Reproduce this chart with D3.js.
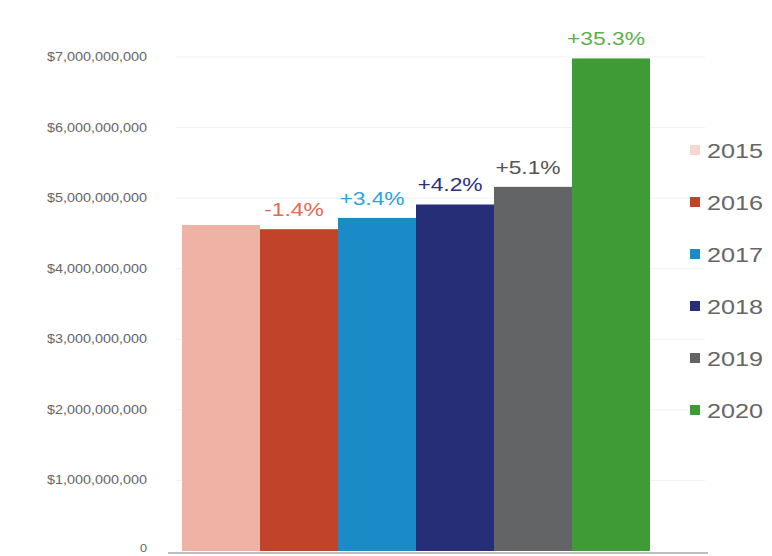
<!DOCTYPE html>
<html>
<head>
<meta charset="utf-8">
<script src="https://cdn.jsdelivr.net/npm/d3@7"></script>
<style>
  body { margin: 0; background: #fff; }
  svg { display: block; font-family: "Liberation Sans", Arial, sans-serif; }
</style>
</head>
<body>
<svg width="772" height="556"></svg>
<script>
// data
const years = ["2015", "2016", "2017", "2018", "2019", "2020"];
const revenue = [4.62e9, 4.56e9, 4.72e9, 4.91e9, 5.16e9, 6.98e9];
const changeLabels = ["", "-1.4%", "+3.4%", "+4.2%", "+5.1%", "+35.3%"];
const yTicks = [0, 1e9, 2e9, 3e9, 4e9, 5e9, 6e9, 7e9];

const barColors = ["#efb3a5", "#c1432a", "#1a8bc7", "#262e78", "#636466", "#3f9b36"];
const labelColors = ["#e8a090", "#e06a55", "#2aa4de", "#2a3282", "#555555", "#5cb04c"];
const legendColors = ["#f7d6cf", "#c1432a", "#1a8bc7", "#262e78", "#636466", "#3f9b36"];

const svg = d3.select("svg");

const x = d3.scaleBand().domain(years).range([182, 650]).padding(0);
const y = d3.scaleLinear().domain([0, 7e9]).range([551, 57]);

const fmt = (d) => (d === 0 ? "0" : d3.format("$,")(d));

// faint gridlines
svg
  .append("g")
  .selectAll("line")
  .data(yTicks.filter((d) => d > 0))
  .enter()
  .append("line")
  .attr("x1", 176)
  .attr("x2", 705)
  .attr("y1", (d) => y(d))
  .attr("y2", (d) => y(d))
  .attr("stroke", "#f1f1f1")
  .attr("stroke-width", 1);

// y tick labels (slightly stretched like the original)
svg
  .append("g")
  .selectAll("text")
  .data(yTicks)
  .enter()
  .append("text")
  .attr("transform", (d) => `translate(147, ${d === 0 ? y(d) + 1 : y(d) + 4}) scale(1.15, 1)`)
  .attr("text-anchor", "end")
  .attr("font-size", (d) => (d === 0 ? "11px" : "12.5px"))
  .attr("fill", "#666")
  .text(fmt);

// bars
svg
  .append("g")
  .selectAll("rect")
  .data(years)
  .enter()
  .append("rect")
  .attr("x", (d) => x(d))
  .attr("y", (d, i) => y(revenue[i]))
  .attr("width", x.bandwidth())
  .attr("height", (d, i) => y(0) - y(revenue[i]))
  .attr("fill", (d, i) => barColors[i]);

// baseline
svg
  .append("line")
  .attr("x1", 168)
  .attr("x2", 708)
  .attr("y1", 553)
  .attr("y2", 553)
  .attr("stroke", "#aaa")
  .attr("stroke-width", 1.5);

// change labels above bars
svg
  .append("g")
  .selectAll("text")
  .data(years)
  .enter()
  .append("text")
  .attr(
    "transform",
    (d, i) =>
      `translate(${x(d) + x.bandwidth() / 2 - 5}, ${y(revenue[i]) - 13}) scale(1.2, 1)`
  )
  .attr("text-anchor", "middle")
  .attr("font-size", "19px")
  .attr("fill", (d, i) => labelColors[i])
  .text((d, i) => changeLabels[i]);

// legend
const legend = svg
  .append("g")
  .selectAll("g")
  .data(years)
  .enter()
  .append("g")
  .attr("transform", (d, i) => `translate(690, ${150 + i * 52})`);

legend
  .append("rect")
  .attr("x", 0)
  .attr("y", -5)
  .attr("width", 10)
  .attr("height", 10)
  .attr("fill", (d, i) => legendColors[i]);

legend
  .append("text")
  .attr("transform", "translate(17, 8) scale(1.2, 1)")
  .attr("font-size", "21px")
  .attr("fill", "#666")
  .text((d) => d);
</script>
</body>
</html>
